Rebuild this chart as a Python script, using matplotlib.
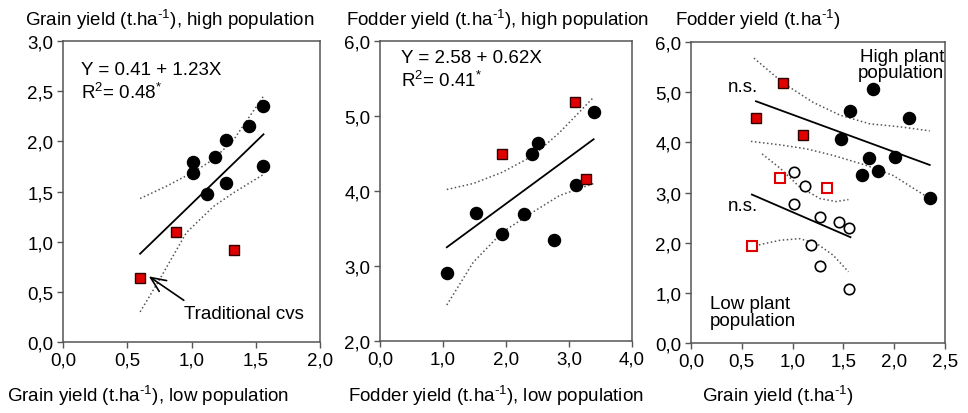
import matplotlib
matplotlib.use("Agg")
import matplotlib.pyplot as plt

plt.rcParams['font.family'] = ['Liberation Sans', 'DejaVu Sans']
plt.rcParams['mathtext.fontset'] = 'custom'
plt.rcParams['mathtext.rm'] = 'Liberation Sans'

RED = '#e00000'
BAND = '#555555'
UNIT = "(t.ha$^{\\text{-1}}$)"

# panel A: grain yield, low vs high population
a_x = [1.01, 1.01, 1.12, 1.18, 1.27, 1.27, 1.45, 1.56, 1.56]
a_y = [1.79, 1.68, 1.48, 1.84, 2.01, 1.58, 2.15, 2.35, 1.75]
a_trad_x = [0.88, 1.33, 0.60]
a_trad_y = [1.10, 0.92, 0.64]
a_fit_x = [0.60, 1.56]
a_fit_y = [0.88, 2.07]
a_up_x = [0.60, 0.80, 1.01, 1.17, 1.33, 1.56]
a_up_y = [1.43, 1.55, 1.69, 1.82, 2.02, 2.45]
a_lo_x = [0.60, 0.75, 0.96, 1.17, 1.33, 1.56]
a_lo_y = [0.30, 0.62, 1.09, 1.35, 1.49, 1.67]

# panel B: fodder yield, low vs high population
b_x = [1.06, 1.52, 1.94, 2.29, 2.41, 2.51, 2.76, 3.11, 3.39]
b_y = [2.91, 3.71, 3.43, 3.69, 4.49, 4.64, 3.35, 4.08, 5.05]
b_trad_x = [1.94, 3.09, 3.27]
b_trad_y = [4.49, 5.19, 4.16]
b_fit_x = [1.06, 3.39]
b_fit_y = [3.25, 4.69]
b_up_x = [1.06, 1.48, 1.94, 2.43, 2.85, 3.39]
b_up_y = [4.02, 4.10, 4.25, 4.47, 4.78, 5.25]
b_lo_x = [1.06, 1.48, 1.94, 2.43, 2.85, 3.39]
b_lo_y = [2.48, 3.05, 3.45, 3.72, 3.94, 4.10]

# panel C: grain vs fodder yield, high and low population
c_hi_x = [1.57, 1.79, 2.15, 1.48, 1.75, 2.01, 1.68, 1.84, 2.35]
c_hi_y = [4.63, 5.06, 4.49, 4.07, 3.68, 3.71, 3.34, 3.43, 2.90]
c_hi_trad_x = [0.91, 0.64, 1.10]
c_hi_trad_y = [5.18, 4.48, 4.15]
c_lo_x = [1.01, 1.12, 1.01, 1.27, 1.46, 1.56, 1.18, 1.27, 1.56]
c_lo_y = [3.40, 3.13, 2.77, 2.51, 2.42, 2.30, 1.95, 1.53, 1.07]
c_lo_trad_x = [0.88, 1.34, 0.60]
c_lo_trad_y = [3.28, 3.10, 1.94]
c_hi_fit_x = [0.64, 2.35]
c_hi_fit_y = [4.82, 3.55]
c_hi_up_x = [0.62, 0.91, 1.20, 1.47, 1.76, 2.06, 2.35]
c_hi_up_y = [5.68, 5.18, 4.80, 4.54, 4.37, 4.31, 4.23]
c_hi_lo_x = [0.59, 0.88, 1.14, 1.40, 1.73, 1.99, 2.35]
c_hi_lo_y = [4.02, 3.95, 3.87, 3.74, 3.54, 3.34, 2.88]
c_lo_fit_x = [0.60, 1.57]
c_lo_fit_y = [2.96, 2.11]
c_lo_up_x = [0.70, 0.88, 1.07, 1.27, 1.43, 1.55]
c_lo_up_y = [3.77, 3.48, 3.11, 2.88, 2.82, 2.86]
c_lo_lo_x = [0.63, 0.88, 1.07, 1.24, 1.40, 1.55]
c_lo_lo_y = [1.94, 2.05, 2.08, 1.98, 1.75, 1.42]

fig = plt.figure(figsize=(9.68, 4.14), dpi=100)
ax1 = fig.add_axes([0.0651, 0.1715, 0.2655, 0.727])
ax2 = fig.add_axes([0.3926, 0.1739, 0.2603, 0.7246])
ax3 = fig.add_axes([0.7138, 0.169, 0.2624, 0.727])

FS = 13.5


def style(ax, xlim, ylim, xt, yt):
    ax.set_xlim(xlim)
    ax.set_ylim(ylim)
    ax.set_xticks(xt)
    ax.set_yticks(yt)
    ax.set_xticklabels([f"{v:.1f}".replace('.', ',') for v in xt], fontsize=FS)
    ax.set_yticklabels([f"{v:.1f}".replace('.', ',') for v in yt], fontsize=FS)
    ax.tick_params(direction='out', length=4, width=1, color='#555555', pad=3)
    for s in ax.spines.values():
        s.set_color('#555555')
        s.set_linewidth(1.1)


def circles(ax, x, y, filled=True):
    ax.plot(x, y, 'o', ms=8.5 if filled else 7.5,
            mfc='black' if filled else 'white', mec='black', mew=1.2,
            clip_on=False, zorder=4)


def squares(ax, x, y, filled=True):
    ax.plot(x, y, 's', ms=6.8, mfc=RED if filled else 'white',
            mec='#300000' if filled else RED, mew=1.0 if filled else 1.5,
            clip_on=False, zorder=4)


def bands(ax, fx, fy, ux, uy, lx, ly):
    ax.plot(fx, fy, color='black', lw=1.3, zorder=3)
    ax.plot(ux, uy, ':', color=BAND, lw=1.1, zorder=2)
    ax.plot(lx, ly, ':', color=BAND, lw=1.1, zorder=2)


# panel A
bands(ax1, a_fit_x, a_fit_y, a_up_x, a_up_y, a_lo_x, a_lo_y)
circles(ax1, a_x, a_y)
squares(ax1, a_trad_x, a_trad_y)
style(ax1, (0, 2), (0, 3), [0, 0.5, 1.0, 1.5, 2.0], [0, 0.5, 1.0, 1.5, 2.0, 2.5, 3.0])
ax1.text(0.14, 2.72, "Y = 0.41 + 1.23X", fontsize=FS, va='center')
ax1.text(0.14, 2.50, "R$^2$= 0.48$^{*}$", fontsize=FS, va='center')
ax1.annotate("Traditional cvs", xy=(0.65, 0.67), xytext=(0.94, 0.28),
             fontsize=FS, va='center',
             arrowprops=dict(arrowstyle='->,head_length=0.8,head_width=0.35',
                             color='black', lw=1.2, shrinkA=0,
                             relpos=(0.0, 1.3)))
fig.text(0.026, 0.952, "Grain yield " + UNIT + ", high population", fontsize=FS, va='center')
fig.text(0.007, 0.045, "Grain yield " + UNIT + ", low population", fontsize=FS, va='center')

# panel B
bands(ax2, b_fit_x, b_fit_y, b_up_x, b_up_y, b_lo_x, b_lo_y)
circles(ax2, b_x, b_y)
squares(ax2, b_trad_x, b_trad_y)
style(ax2, (0, 4), (2, 6), [0, 1, 2, 3, 4], [2, 3, 4, 5, 6])
ax2.text(0.34, 5.78, "Y = 2.58 + 0.62X", fontsize=FS, va='center')
ax2.text(0.34, 5.49, "R$^2$= 0.41$^{*}$", fontsize=FS, va='center')
fig.text(0.357, 0.952, "Fodder yield " + UNIT + ", high population", fontsize=FS, va='center')
fig.text(0.360, 0.045, "Fodder yield " + UNIT + ", low population", fontsize=FS, va='center')

# panel C
bands(ax3, c_hi_fit_x, c_hi_fit_y, c_hi_up_x, c_hi_up_y, c_hi_lo_x, c_hi_lo_y)
bands(ax3, c_lo_fit_x, c_lo_fit_y, c_lo_up_x, c_lo_up_y, c_lo_lo_x, c_lo_lo_y)
circles(ax3, c_hi_x, c_hi_y)
squares(ax3, c_hi_trad_x, c_hi_trad_y)
circles(ax3, c_lo_x, c_lo_y, filled=False)
squares(ax3, c_lo_trad_x, c_lo_trad_y, filled=False)
style(ax3, (0, 2.5), (0, 6), [0, 0.5, 1.0, 1.5, 2.0, 2.5], [0, 1, 2, 3, 4, 5, 6])
ax3.text(0.36, 5.12, "n.s.", fontsize=FS, va='center')
ax3.text(0.36, 2.74, "n.s.", fontsize=FS, va='center')
ax3.text(2.49, 5.55, "High plant\npopulation", fontsize=FS, ha='right', va='center',
         linespacing=0.95)
ax3.text(0.19, 0.62, "Low plant\npopulation", fontsize=FS, ha='left', va='center',
         linespacing=0.95)
fig.text(0.697, 0.952, "Fodder yield " + UNIT, fontsize=FS, va='center')
fig.text(0.725, 0.045, "Grain yield " + UNIT, fontsize=FS, va='center')

fig.savefig("out.png", dpi=100)
